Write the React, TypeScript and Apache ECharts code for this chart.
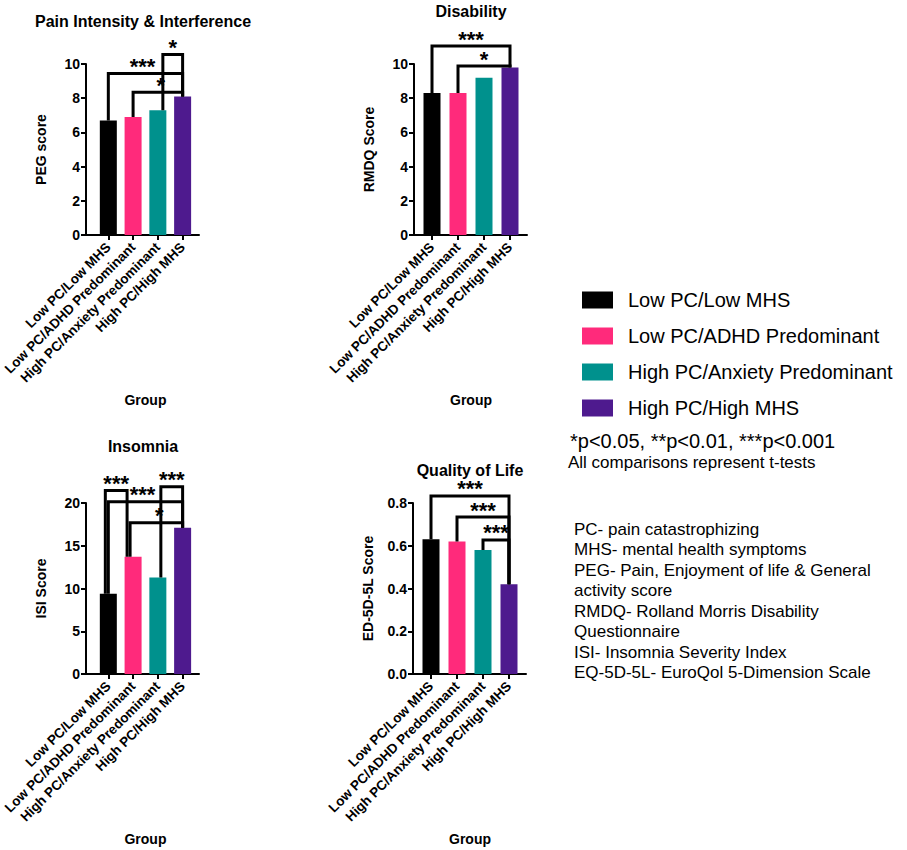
import React, { useEffect, useRef } from "react";
import * as echarts from "echarts";

const groups = [
  "Low PC/Low MHS",
  "Low PC/ADHD Predominant",
  "High PC/Anxiety Predominant",
  "High PC/High MHS",
];
const groupColors = ["#000000", "#FF2A7B", "#00918D", "#4E1A8E"];

const panelTitles = ["Pain Intensity & Interference", "Disability", "Insomnia", "Quality of Life"];
const yNames = ["PEG score", "RMDQ Score", "ISI Score", "ED-5D-5L Score"];

const pegValues = [6.7, 6.9, 7.3, 8.1];
const rmdqValues = [8.3, 8.3, 9.2, 9.8];
const isiValues = [9.4, 13.7, 11.3, 17.1];
const eqValues = [0.63, 0.62, 0.58, 0.42];

const yMax = [10, 10, 20, 0.8];
const yInterval = [2, 2, 5, 0.2];
const yDecimals = [0, 0, 0, 1];

// significance brackets: [fromGroup, toGroup, bracket level (axis units), label]
const pegBrackets: [number, number, number, string][] = [
  [2, 3, 10.55, "*"],
  [0, 3, 9.45, "***"],
  [1, 3, 8.35, "*"],
];
const rmdqBrackets: [number, number, number, string][] = [
  [0, 3, 11.05, "***"],
  [1, 3, 9.88, "*"],
];
const isiBrackets: [number, number, number, string][] = [
  [0, 1, 21.45, "***"],
  [0, 3, 20.15, "***"],
  [1, 3, 17.7, "*"],
  [2, 3, 21.9, "***"],
];
const eqBrackets: [number, number, number, string][] = [
  [0, 3, 0.833, "***"],
  [1, 3, 0.734, "***"],
  [2, 3, 0.627, "***"],
];

const abbreviations = [
  "PC- pain catastrophizing",
  "MHS- mental health symptoms",
  "PEG- Pain, Enjoyment of life & General",
  "activity score",
  "RMDQ- Rolland Morris Disability",
  "Questionnaire",
  "ISI- Insomnia Severity Index",
  "EQ-5D-5L- EuroQol 5-Dimension Scale",
];
const pNote = "*p<0.05, **p<0.01, ***p<0.001";
const testNote = "All comparisons represent t-tests";

// ---- layout / style (not data) ----
const FONT = "'Liberation Sans', Arial, Helvetica, sans-serif";
const panelLayout = [
  { axisX: 86, top: 64 },
  { axisX: 414, top: 64 },
  { axisX: 86, top: 503 },
  { axisX: 413, top: 503 },
];
const PLOT_H = 171;
const OUTER_W = 113;
const INNER_PAD = 5;
const INNER_W = 104;
// per-bracket [left leg dx, right leg dx, label dx] in pixels
const bracketNudges = [
  [[5, 0, 0], [0, 0, -3], [0, 0, 3]],
  [[0, 0, 0], [0, 0, 0]],
  [[-3, -6, 0], [0, 0, -3], [-3, 0, 3], [3, 0, 0]],
  [[0, 0, 0], [0, 0, 0], [0, 0, 0]],
];

export default function App() {
  const ref = useRef<HTMLDivElement>(null);

  useEffect(() => {
    document.body.style.margin = "0";
    const chart = echarts.init(ref.current!, null, { renderer: "svg" });

    const valuesList = [pegValues, rmdqValues, isiValues, eqValues];
    const bracketsList = [pegBrackets, rmdqBrackets, isiBrackets, eqBrackets];

    const grid: any[] = [];
    const xAxis: any[] = [];
    const yAxis: any[] = [];
    const series: any[] = [];
    const graphic: any[] = [];

    valuesList.forEach((values, p) => {
      const L = panelLayout[p];
      const outerIdx = p * 2;
      const innerIdx = p * 2 + 1;
      grid.push({ left: L.axisX, top: L.top, width: OUTER_W, height: PLOT_H });
      grid.push({ left: L.axisX + INNER_PAD, top: L.top, width: INNER_W, height: PLOT_H });

      // outer axes: full-length axis lines + y labels
      xAxis.push({
        gridIndex: outerIdx,
        type: "value",
        min: 0,
        max: 1,
        axisLine: { show: true, lineStyle: { color: "#000", width: 2 } },
        axisTick: { show: false },
        axisLabel: { show: false },
        splitLine: { show: false },
      });
      yAxis.push({
        gridIndex: outerIdx,
        type: "value",
        min: 0,
        max: yMax[p],
        interval: yInterval[p],
        name: yNames[p],
        nameLocation: "middle",
        nameGap: 38,
        nameTextStyle: { fontFamily: FONT, fontWeight: "bold", fontSize: 14, color: "#000" },
        axisLine: { show: true, lineStyle: { color: "#000", width: 2 } },
        axisTick: { show: true, length: 5, lineStyle: { color: "#000", width: 2 } },
        axisLabel: {
          margin: 6,
          fontFamily: FONT,
          fontWeight: "bold",
          fontSize: 14,
          color: "#000",
          formatter: (v: number) => v.toFixed(yDecimals[p]),
        },
        splitLine: { show: false },
      });

      // inner axes: categories for bars
      xAxis.push({
        gridIndex: innerIdx,
        type: "category",
        data: groups,
        name: "Group",
        nameLocation: "middle",
        nameGap: 158,
        nameTextStyle: { fontFamily: FONT, fontWeight: "bold", fontSize: 14, color: "#000" },
        axisLine: { show: false },
        axisTick: { show: true, alignWithLabel: true, length: 5, lineStyle: { color: "#000", width: 2 } },
        axisLabel: {
          rotate: 45,
          margin: 10,
          interval: 0,
          fontFamily: FONT,
          fontWeight: "bold",
          fontSize: 13.5,
          color: "#000",
        },
        splitLine: { show: false },
      });
      yAxis.push({
        gridIndex: innerIdx,
        type: "value",
        min: 0,
        max: yMax[p],
        interval: yInterval[p],
        show: false,
        splitLine: { show: false },
      });

      groups.forEach((g, gi) => {
        series.push({
          type: "bar",
          name: g,
          xAxisIndex: innerIdx,
          yAxisIndex: innerIdx,
          barWidth: 17,
          barGap: "-100%",
          itemStyle: { color: groupColors[gi] },
          data: values.map((v, i) => (i === gi ? v : "-")),
        });
      });

      const brackets = bracketsList[p];
      series.push({
        type: "custom",
        xAxisIndex: innerIdx,
        yAxisIndex: innerIdx,
        clip: false,
        z: 5,
        encode: { x: 0, y: 2 },
        data: brackets.map((b) => [b[0], b[1], b[2]]),
        renderItem: (params: any, api: any) => {
          const i1 = api.value(0);
          const i2 = api.value(1);
          const lvl = api.value(2);
          const b = brackets[params.dataIndex];
          const nd = bracketNudges[p][params.dataIndex] || [0, 0, 0];
          const pA = api.coord([i1, values[i1]]);
          const pB = api.coord([i2, values[i2]]);
          const top = api.coord([i1, lvl])[1];
          const x1 = pA[0] + nd[0];
          const x2 = pB[0] + nd[1];
          return {
            type: "group",
            children: [
              {
                type: "polyline",
                shape: { points: [[x1, pA[1]], [x1, top], [x2, top], [x2, pB[1]]] },
                style: { stroke: "#000", lineWidth: 3, fill: null, lineJoin: "miter" },
              },
              {
                type: "text",
                x: (x1 + x2) / 2 + nd[2],
                y: top - 7,
                style: {
                  text: b[3],
                  align: "center",
                  verticalAlign: "middle",
                  fontFamily: FONT,
                  fontWeight: "bold",
                  fontSize: 22,
                  lineHeight: 12,
                  fill: "#000",
                },
              },
            ],
          };
        },
      });

      graphic.push({
        type: "text",
        x: L.axisX + INNER_PAD + INNER_W / 2,
        y: [21, 11, 446, 470][p],
        style: {
          text: panelTitles[p],
          align: "center",
          verticalAlign: "middle",
          fontFamily: FONT,
          fontWeight: "bold",
          fontSize: 16,
          fill: "#000",
        },
      });
    });

    graphic.push({
      type: "text",
      x: 570,
      y: 441,
      style: { text: pNote, align: "left", verticalAlign: "middle", fontFamily: FONT, fontSize: 20, fill: "#000" },
    });
    graphic.push({
      type: "text",
      x: 568,
      y: 462,
      style: { text: testNote, align: "left", verticalAlign: "middle", fontFamily: FONT, fontSize: 17, fill: "#000" },
    });
    graphic.push({
      type: "text",
      x: 574,
      y: 519,
      style: {
        text: abbreviations.join("\n"),
        align: "left",
        verticalAlign: "top",
        fontFamily: FONT,
        fontSize: 17,
        lineHeight: 20.5,
        fill: "#000",
      },
    });

    chart.setOption({
      animation: false,
      backgroundColor: "#fff",
      grid,
      xAxis,
      yAxis,
      series,
      graphic,
      legend: {
        data: groups,
        orient: "vertical",
        left: 582,
        top: 290,
        padding: 0,
        itemWidth: 31,
        itemHeight: 17,
        itemGap: 16,
        icon: "rect",
        selectedMode: false,
        textStyle: {
          fontFamily: FONT,
          fontSize: 20,
          lineHeight: 20,
          color: "#000",
          padding: [0, 0, 0, 10],
        },
      },
    });

    return () => chart.dispose();
  }, []);

  return <div ref={ref} style={{ width: 907, height: 850 }} />;
}
